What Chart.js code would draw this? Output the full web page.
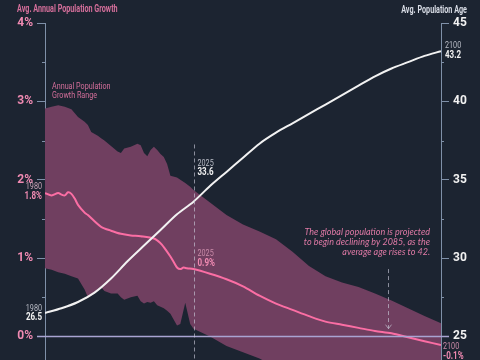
<!DOCTYPE html>
<html>
<head>
<meta charset="utf-8">
<script src="https://cdn.jsdelivr.net/npm/chart.js@4.4.1/dist/chart.umd.min.js"></script>
<style>
  html, body { margin: 0; padding: 0; background: #1c2431; }
  #wrap { width: 480px; height: 360px; position: relative; }
</style>
</head>
<body>
<div id="wrap"><canvas id="chart" width="480" height="360"></canvas></div>
<script>
// #region [01] Data
const growthYears = [1980, 1982, 1984, 1985, 1986, 1987, 1988, 1989, 1990, 1992, 1993, 1995, 1997, 2000, 2003, 2006, 2009, 2013, 2015, 2016, 2018, 2019, 2020, 2021, 2022, 2023, 2025, 2030, 2035, 2040, 2045, 2050, 2055, 2060, 2065, 2070, 2075, 2080, 2085, 2090, 2095, 2100];
const growthValues = [1.83, 1.80, 1.83, 1.81, 1.80, 1.84, 1.82, 1.76, 1.68, 1.58, 1.55, 1.47, 1.40, 1.35, 1.31, 1.29, 1.28, 1.25, 1.19, 1.14, 1.02, 0.95, 0.88, 0.86, 0.88, 0.87, 0.86, 0.80, 0.73, 0.64, 0.52, 0.42, 0.34, 0.26, 0.19, 0.15, 0.11, 0.07, 0.04, -0.01, -0.06, -0.11];

const bandYears = [1980, 1982, 1984, 1986, 1988, 1990, 1992, 1993, 1994, 1996, 1997, 1998, 2000, 2002, 2003, 2004, 2006, 2008, 2009, 2010, 2011, 2012, 2013, 2014, 2015, 2016, 2017, 2018, 2020, 2021, 2022.5, 2024, 2025, 2030, 2035, 2040, 2045, 2050, 2055, 2060, 2065, 2070, 2075, 2080, 2085, 2090, 2095, 2100];
const bandHigh = [2.91, 2.93, 2.95, 2.93, 2.90, 2.80, 2.74, 2.70, 2.61, 2.56, 2.53, 2.50, 2.43, 2.36, 2.34, 2.40, 2.42, 2.46, 2.44, 2.34, 2.30, 2.38, 2.42, 2.38, 2.33, 2.29, 2.20, 2.05, 2.03, 2.00, 1.96, 1.91, 1.87, 1.71, 1.55, 1.43, 1.34, 1.24, 1.08, 0.90, 0.77, 0.69, 0.63, 0.55, 0.46, 0.36, 0.26, 0.17];
const bandLow = [0.87, 0.85, 0.82, 0.80, 0.77, 0.74, 0.60, 0.50, 0.52, 0.60, 0.63, 0.58, 0.55, 0.55, 0.50, 0.47, 0.50, 0.52, 0.45, 0.42, 0.44, 0.43, 0.45, 0.40, 0.38, 0.36, 0.33, 0.29, 0.14, 0.16, 0.43, 0.16, 0.10, 0.00, -0.12, -0.20, -0.28, -0.40, -0.50, -0.60, -0.68, -0.75, -0.82, -0.90, -0.95, -1.00, -1.05, -1.10];

const ageYears = [1980, 1985, 1990, 1995, 2000, 2005, 2010, 2015, 2020, 2025, 2030, 2035, 2040, 2045, 2050, 2055, 2060, 2065, 2070, 2075, 2080, 2085, 2090, 2095, 2100];
const ageValues = [26.5, 26.8, 27.2, 27.8, 28.7, 29.8, 30.8, 31.8, 32.8, 33.6, 34.6, 35.5, 36.4, 37.3, 38.0, 38.6, 39.2, 39.8, 40.4, 41.0, 41.6, 42.1, 42.5, 42.9, 43.2];

const growthTicks = [0, 0.5, 1, 1.5, 2, 2.5, 3, 3.5, 4];
const ageTicks = [25, 27.5, 30, 32.5, 35, 37.5, 40, 42.5, 45];
// #endregion

// #region [02] Styles
const BAND = '#703f60';
const PINK = '#fb6ea4';
const PINK_TEXT = '#f08ab2';
const PINK_SOFT = '#d56f9b';
const WHITE = '#f2f2f2';
const AXIS = '#7f90a8';
const ZERO_LINE = '#a9a4d2';
const DASH = 'rgba(200,200,215,0.65)';
const SANS = 'Roboto, "DejaVu Sans", sans-serif';
const ITALIC_FONT = 'Lato, "Open Sans", sans-serif';
const SQUEEZE = 0.8; // fake a condensed face, none is installed

const toPoints = (xs, ys) => xs.map((v, i) => ({ x: v, y: ys[i] }));

function narrowText(ctx, text, px, py, align, squeeze = SQUEEZE) {
    ctx.save();
    ctx.translate(px, py);
    ctx.scale(squeeze, 1);
    ctx.textAlign = align;
    ctx.fillText(text, 0, 0);
    ctx.restore();
}
// #endregion

// #region [03] Overlay: zero line, markers, labels
const overlayPlugin = {
    id: 'overlay',
    afterDatasetsDraw(chart) {
        const { ctx, chartArea } = chart;
        const { x, y, y2 } = chart.scales;
        ctx.save();

        // 0% baseline
        const y0 = Math.round(y.getPixelForValue(0)) + 0.5;
        ctx.strokeStyle = ZERO_LINE;
        ctx.lineWidth = 1.5;
        ctx.beginPath();
        ctx.moveTo(chartArea.left - 8, y0);
        ctx.lineTo(chartArea.right + 8, y0);
        ctx.stroke();

        // short minor ticks
        ctx.strokeStyle = AXIS;
        ctx.lineWidth = 1;
        growthTicks.filter(v => !Number.isInteger(v)).forEach(v => {
            const py = Math.round(y.getPixelForValue(v)) + 0.5;
            ctx.beginPath(); ctx.moveTo(chartArea.left - 3, py); ctx.lineTo(chartArea.left, py); ctx.stroke();
        });
        ageTicks.filter(v => v % 5 !== 0).forEach(v => {
            const py = Math.round(y2.getPixelForValue(v)) + 0.5;
            ctx.beginPath(); ctx.moveTo(chartArea.right, py); ctx.lineTo(chartArea.right + 3, py); ctx.stroke();
        });

        // 2025 dashed marker
        const x2025 = Math.round(x.getPixelForValue(2025)) + 0.5;
        ctx.strokeStyle = DASH;
        ctx.setLineDash([4, 3]);
        ctx.beginPath();
        ctx.moveTo(x2025, y.getPixelForValue(2.45));
        ctx.lineTo(x2025, chartArea.bottom);
        ctx.stroke();

        // 2085 arrow
        const x2085 = Math.round(x.getPixelForValue(2084)) + 0.5;
        const arrowEnd = y.getPixelForValue(0.1);
        ctx.beginPath();
        ctx.moveTo(x2085, y.getPixelForValue(0.86));
        ctx.lineTo(x2085, arrowEnd);
        ctx.stroke();
        ctx.setLineDash([]);
        ctx.beginPath();
        ctx.moveTo(x2085 - 3, arrowEnd - 4);
        ctx.lineTo(x2085, arrowEnd);
        ctx.lineTo(x2085 + 3, arrowEnd - 4);
        ctx.stroke();

        // axis titles
        ctx.textBaseline = 'middle';
        ctx.font = `bold 10px ${SANS}`;
        ctx.fillStyle = PINK_SOFT;
        narrowText(ctx, 'Avg. Annual Population Growth', 17, 9, 'left', 0.72);
        ctx.fillStyle = '#d9dde6';
        narrowText(ctx, 'Avg. Population Age', 467, 10, 'right', 0.72);

        // band label
        ctx.fillStyle = PINK_SOFT;
        ctx.font = `9px ${SANS}`;
        narrowText(ctx, 'Annual Population', 52, 87, 'left');
        narrowText(ctx, 'Growth Range', 52, 96, 'left');

        const label = (px, py, align, year, value, yearColor, valueColor) => {
            ctx.font = `9px ${SANS}`;
            ctx.fillStyle = yearColor;
            narrowText(ctx, year, px, py - 5, align);
            ctx.font = `bold 10px ${SANS}`;
            ctx.fillStyle = valueColor;
            narrowText(ctx, value, px, py + 4, align);
        };

        const xs = x.getPixelForValue(1980) - 3;
        label(xs, y.getPixelForValue(growthValues[0]) - 1, 'right', '1980', '1.8%', '#c9a3b6', PINK_TEXT);
        label(xs, y2.getPixelForValue(ageValues[0]) + 1, 'right', '1980', '26.5', '#b9bcc6', WHITE);
        label(x2025 + 3, y2.getPixelForValue(33.6) - 33, 'left', '2025', '33.6', '#b9bcc6', WHITE);
        label(x2025 + 3, y.getPixelForValue(0.86) - 10, 'left', '2025', '0.9%', '#c98aa8', PINK_TEXT);
        const xe = x.getPixelForValue(2100) + 4;
        label(xe, y2.getPixelForValue(43.2), 'left', '2100', '43.2', '#b9bcc6', WHITE);
        label(xe - 2, y.getPixelForValue(-0.11) + 7, 'left', '2100', '-0.1%', '#c98aa8', PINK_TEXT);

        // annotation
        ctx.textAlign = 'right';
        ctx.fillStyle = '#e07aa6';
        ctx.font = `italic 9px ${ITALIC_FONT}`;
        ctx.fillText('The global population is projected', 430, 232);
        ctx.fillText('to begin declining by 2085, as the', 430, 242);
        ctx.fillText('average age rises to 42.', 430, 252);

        ctx.restore();
    }
};
// #endregion

// #region [04] Chart
const tickFont = { family: SANS, size: 12, weight: 'bold' };

const trimPadding = s => {
    s.paddingTop = 0;
    s.paddingBottom = 0;
};

new Chart(document.getElementById('chart'), {
    type: 'line',
    data: {
        datasets: [
            {
                data: toPoints(ageYears, ageValues),
                yAxisID: 'y2',
                borderColor: WHITE,
                borderWidth: 2,
                pointRadius: 0,
                tension: 0.3,
                fill: false,
                order: 0
            },
            {
                data: toPoints(growthYears, growthValues),
                yAxisID: 'y',
                borderColor: PINK,
                borderWidth: 2,
                pointRadius: 0,
                tension: 0.3,
                fill: false,
                order: 1
            },
            {
                data: toPoints(bandYears, bandHigh),
                yAxisID: 'y',
                borderWidth: 0,
                borderColor: 'rgba(0,0,0,0)',
                backgroundColor: BAND,
                pointRadius: 0,
                fill: '+1',
                order: 2
            },
            {
                data: toPoints(bandYears, bandLow),
                yAxisID: 'y',
                borderWidth: 0,
                borderColor: 'rgba(0,0,0,0)',
                pointRadius: 0,
                fill: false,
                order: 3
            }
        ]
    },
    options: {
        responsive: false,
        animation: false,
        layout: { padding: { top: 23, bottom: 0, left: 0, right: 0 } },
        plugins: { legend: { display: false }, tooltip: { enabled: false } },
        scales: {
            x: { type: 'linear', min: 1980, max: 2100, display: false },
            y: {
                position: 'left',
                min: -0.3,
                max: 4,
                afterBuildTicks: s => { s.ticks = growthTicks.map(v => ({ value: v })); },
                afterFit: s => { s.width = 45; trimPadding(s); },
                ticks: {
                    padding: 4,
                    color: PINK_TEXT,
                    font: tickFont,
                    callback: v => Number.isInteger(v) ? v + '%' : ''
                },
                grid: {
                    drawOnChartArea: false,
                    tickLength: 8,
                    tickColor: c => Number.isInteger(c.tick.value) ? AXIS : 'rgba(0,0,0,0)'
                },
                border: { color: AXIS, width: 1 }
            },
            y2: {
                position: 'right',
                min: 23.5,
                max: 45,
                afterBuildTicks: s => { s.ticks = ageTicks.map(v => ({ value: v })); },
                afterFit: s => { s.width = 39; trimPadding(s); },
                ticks: {
                    padding: 4,
                    color: WHITE,
                    font: tickFont,
                    callback: v => v % 5 === 0 ? String(v) : ''
                },
                grid: {
                    drawOnChartArea: false,
                    tickLength: 8,
                    tickColor: c => c.tick.value % 5 === 0 ? AXIS : 'rgba(0,0,0,0)'
                },
                border: { color: AXIS, width: 1 }
            }
        }
    },
    plugins: [overlayPlugin]
});
// #endregion
</script>
</body>
</html>
